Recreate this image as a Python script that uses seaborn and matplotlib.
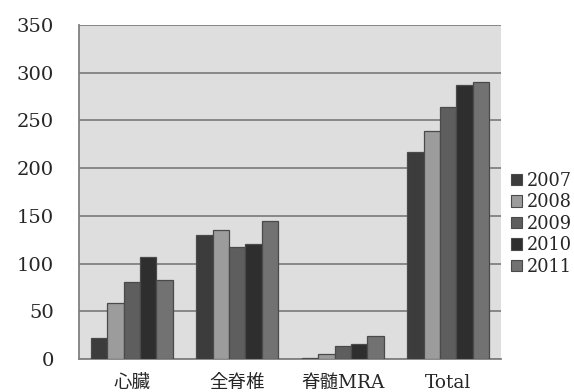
import matplotlib
matplotlib.use("Agg")
import matplotlib.pyplot as plt
import seaborn as sns
import pandas as pd
from matplotlib.patches import Patch

categories = ["心臓", "全脊椎", "脊髄MRA", "Total"]
years = ["2007", "2008", "2009", "2010", "2011"]
values_2007 = [22, 130, 1, 217]
values_2008 = [59, 135, 5, 239]
values_2009 = [81, 117, 14, 264]
values_2010 = [107, 120, 16, 287]
values_2011 = [83, 145, 24, 290]
yticks = [0, 50, 100, 150, 200, 250, 300, 350]

colors = ["#3c3c3c", "#9c9c9c", "#5e5e5e", "#2e2e2e", "#727272"]

series = [values_2007, values_2008, values_2009, values_2010, values_2011]
rows = []
for year, vals in zip(years, series):
    for cat, v in zip(categories, vals):
        rows.append({"category": cat, "year": year, "value": v})
df = pd.DataFrame(rows)

sns.set_style("white")
plt.rcParams["font.family"] = ["DejaVu Serif", "Noto Sans CJK JP"]
plt.rcParams["font.size"] = 14

fig = plt.figure(figsize=(5.74, 3.92), dpi=100)
ax = fig.add_axes([79 / 574, 1 - 359 / 392, (501 - 79) / 574, (359 - 25) / 392])

sns.barplot(data=df, x="category", y="value", hue="year", order=categories,
            hue_order=years, palette=colors, width=0.775, gap=0,
            edgecolor="#4a4a4a", linewidth=0.9, saturation=1, ax=ax,
            legend=False, zorder=3)

ax.set_facecolor("#dedede")
ax.set_ylim(0, 350)
ax.set_xlim(-0.5, 3.5)
ax.set_yticks(yticks)
ax.set_yticklabels([str(t) for t in yticks], fontsize=14)
ax.yaxis.grid(True, color="#808080", linewidth=1.3, zorder=1)
ax.set_axisbelow(True)
ax.set_xlabel("")
ax.set_ylabel("")

# category boundary ticks on the x axis
ax.set_xticks([-0.5, 0.5, 1.5, 2.5, 3.5])
ax.set_xticklabels([])
ax.set_xticks([0, 1, 2, 3], minor=True)
ax.set_xticklabels(categories, minor=True, fontsize=13.3)
ax.tick_params(axis="x", which="major", length=6, width=1.3, color="#808080", direction="out")
ax.tick_params(axis="x", which="minor", length=0, pad=10.5)
ax.tick_params(axis="y", length=6, width=1.3, color="#808080", direction="out", pad=12)

for side in ["top", "right"]:
    ax.spines[side].set_visible(False)
for side in ["left", "bottom"]:
    ax.spines[side].set_color("#808080")
    ax.spines[side].set_linewidth(1.3)

handles = [Patch(facecolor=c, edgecolor="#4a4a4a", linewidth=0.8) for c in colors]
fig.legend(handles, years, loc="upper left", bbox_to_anchor=(511 / 574, 1 - 172 / 392),
           frameon=False, fontsize=12.8, handlelength=0.6, handleheight=0.6,
           handletextpad=0.3, labelspacing=0.19, borderaxespad=0, borderpad=0)

fig.savefig("out.png", dpi=100)
